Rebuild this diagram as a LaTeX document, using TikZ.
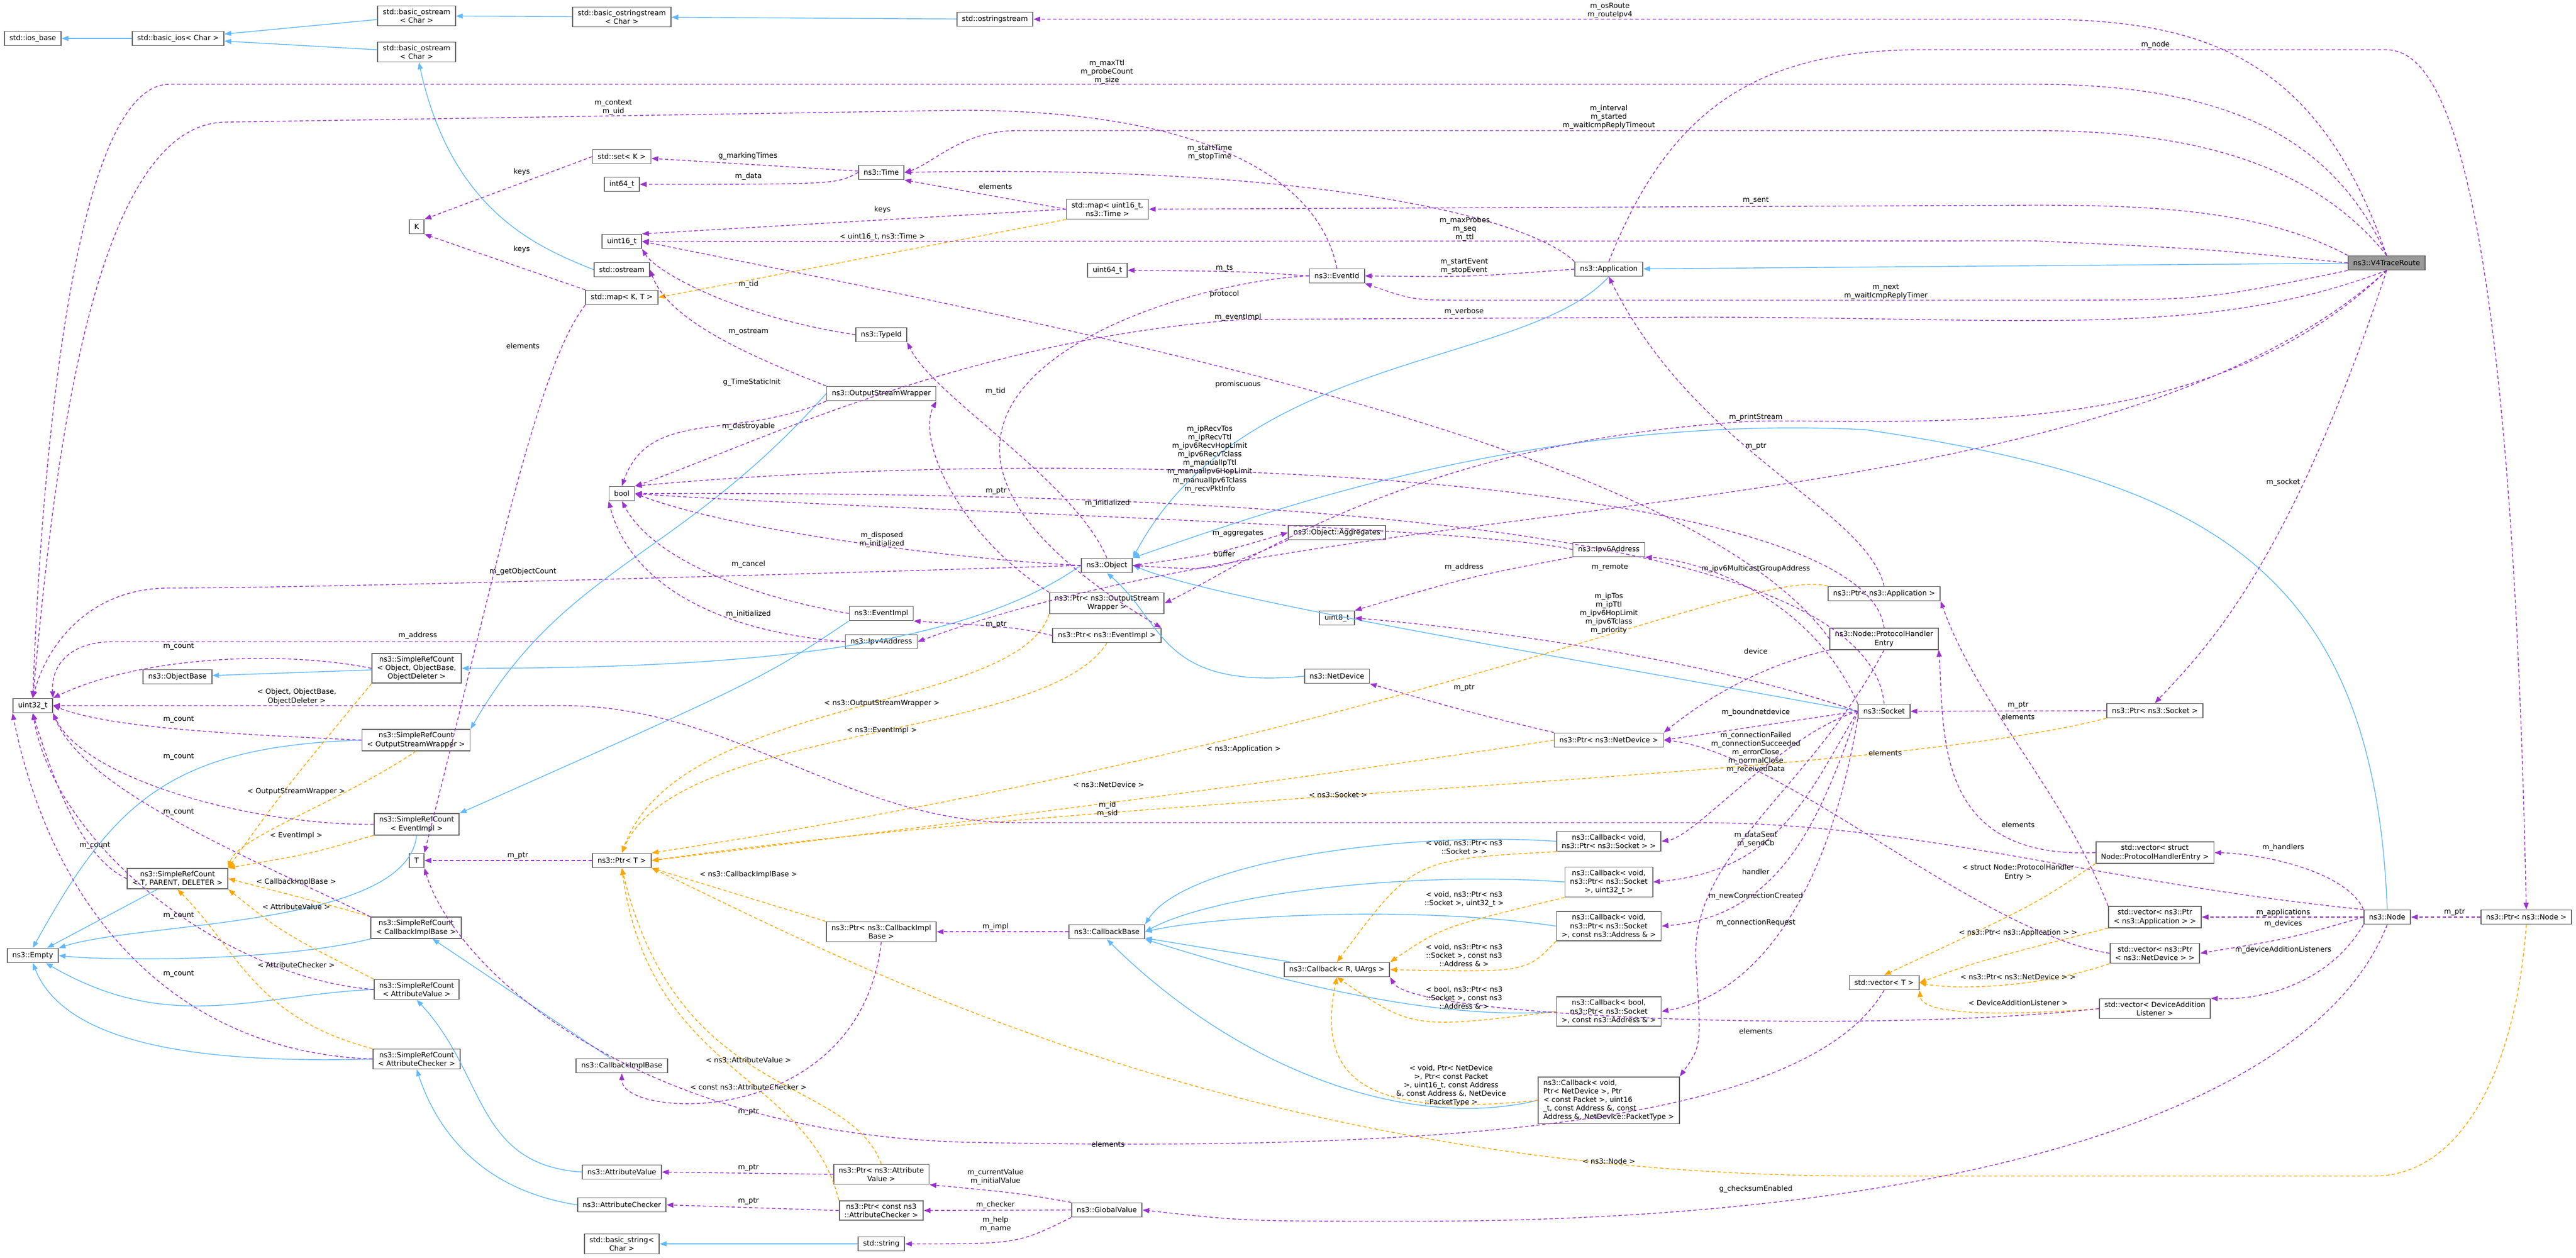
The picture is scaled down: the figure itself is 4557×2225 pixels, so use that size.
\documentclass[tikz,border=0pt]{standalone}
\usepackage{fontspec}
\setmainfont{DejaVu Sans}
\usetikzlibrary{arrows.meta}
\definecolor{cpur}{HTML}{9A32CD}
\definecolor{cblu}{HTML}{63B8FF}
\definecolor{cora}{HTML}{FFA500}
\definecolor{cbor}{HTML}{666666}
\begin{document}
\begin{tikzpicture}[x=0.01cm,y=-0.01cm,
  box/.style={draw=cbor,line width=0.5pt,fill=white,font=\fontsize{3.6}{4.3}\selectfont,align=center,inner xsep=0.09cm,inner ysep=0.05cm,minimum height=0.25cm},
  lbox/.style={box,align=left},
  root/.style={box,fill=black!40},
  lab/.style={font=\fontsize{3.6}{4.3}\selectfont,align=center,inner sep=0pt},
  use/.style={draw=cpur,line width=0.4pt,dash pattern=on 1.7pt off 1.2pt,-{Triangle[length=0.12cm,width=0.09cm]}},
  inh/.style={draw=cblu,line width=0.4pt,-{Triangle[length=0.12cm,width=0.09cm]}},
  tpl/.style={draw=cora,line width=0.4pt,dash pattern=on 1.7pt off 1.2pt,-{Triangle[length=0.12cm,width=0.09cm]}}]
\useasboundingbox (0,0) rectangle (4557,2225);
% nodes
\node[box] (ios) at (58,68) {std::ios\_base};
\node[box] (bios) at (315,68) {std::basic\_ios< Char >};
\node[box] (bos1) at (737,28) {std::basic\_ostream\\< Char >};
\node[box] (bos2) at (737,92) {std::basic\_ostream\\< Char >};
\node[box] (boss) at (1100,30) {std::basic\_ostringstream\\< Char >};
\node[box] (oss) at (1760,34) {std::ostringstream};
\node[box] (K) at (737,401) {K};
\node[box] (setK) at (1100,277) {std::set< K >};
\node[box] (i64) at (1100,326) {int64\_t};
\node[box] (u16) at (1100,427) {uint16\_t};
\node[box] (ostr) at (1100,477) {std::ostream};
\node[box] (mapKT) at (1100,526) {std::map< K, T >};
\node[box] (time) at (1559,305) {ns3::Time};
\node[box] (mapUT) at (1959,370) {std::map< uint16\_t,\\ ns3::Time >};
\node[box] (u64) at (1959,478) {uint64\_t};
\node[box] (tid) at (1559,592) {ns3::TypeId};
\node[box] (osw) at (1559,696) {ns3::OutputStreamWrapper};
\node[box] (bool) at (1100,873) {bool};
\node[box] (obj) at (1958,1000) {ns3::Object};
\node[box] (posw) at (1958,1067) {ns3::Ptr< ns3::OutputStream\\Wrapper >};
\node[box] (pev) at (1958,1124) {ns3::Ptr< ns3::EventImpl >};
\node[box] (evi) at (1559,1085) {ns3::EventImpl};
\node[box] (ip4) at (1559,1135) {ns3::Ipv4Address};
\node[box] (u32) at (58,1248) {uint32\_t};
\node[box] (obase) at (314,1197) {ns3::ObjectBase};
\node[box] (srcO) at (737,1182) {ns3::SimpleRefCount\\< Object, ObjectBase,\\ ObjectDeleter >};
\node[box] (srcOSW) at (736,1309) {ns3::SimpleRefCount\\< OutputStreamWrapper >};
\node[box] (srcEI) at (737,1458) {ns3::SimpleRefCount\\< EventImpl >};
\node[box] (srcT) at (314,1554) {ns3::SimpleRefCount\\< T, PARENT, DELETER >};
\node[box] (empty) at (58,1690) {ns3::Empty};
\node[box] (srcCIB) at (736,1641) {ns3::SimpleRefCount\\< CallbackImplBase >};
\node[box] (srcAV) at (737,1750) {ns3::SimpleRefCount\\< AttributeValue >};
\node[box] (srcAC) at (737,1873) {ns3::SimpleRefCount\\< AttributeChecker >};
\node[box] (T) at (737,1522) {T};
\node[box] (ptrT) at (1100,1522) {ns3::Ptr< T >};
\node[box] (cib) at (1100,1885) {ns3::CallbackImplBase};
\node[box] (av) at (1100,2073) {ns3::AttributeValue};
\node[box] (ac) at (1100,2131) {ns3::AttributeChecker};
\node[box] (bstr) at (1100,2200) {std::basic\_string<\\ Char >};
\node[box] (pcib) at (1559,1648) {ns3::Ptr< ns3::CallbackImpl\\Base >};
\node[box] (cbb) at (1958,1648) {ns3::CallbackBase};
\node[box] (pav) at (1559,2077) {ns3::Ptr< ns3::Attribute\\Value >};
\node[box] (pac) at (1559,2141) {ns3::Ptr< const ns3\\::AttributeChecker >};
\node[box] (gv) at (1958,2140) {ns3::GlobalValue};
\node[box] (str) at (1559,2200) {std::string};
\node[box] (evid) at (2365,488) {ns3::EventId};
\node[box] (app) at (2846,476) {ns3::Application};
\node[box] (agg) at (2365,942) {ns3::Object::Aggregates};
\node[box] (ip6) at (2846,972) {ns3::Ipv6Address};
\node[box] (u8) at (2365,1093) {uint8\_t};
\node[box] (papp) at (3333,1050) {ns3::Ptr< ns3::Application >};
\node[box] (nd) at (2365,1196) {ns3::NetDevice};
\node[box] (pnd) at (2846,1309) {ns3::Ptr< ns3::NetDevice >};
\node[box] (sock) at (3333,1258) {ns3::Socket};
\node[box] (phe) at (3333,1130) {ns3::Node::ProtocolHandler\\Entry};
\node[box] (cb1) at (2846,1488) {ns3::Callback< void,\\ ns3::Ptr< ns3::Socket > >};
\node[box] (cb2) at (2846,1560) {ns3::Callback< void,\\ ns3::Ptr< ns3::Socket\\ >, uint32\_t >};
\node[box] (cb3) at (2846,1638) {ns3::Callback< void,\\ ns3::Ptr< ns3::Socket\\ >, const ns3::Address \& >};
\node[box] (cbR) at (2365,1715) {ns3::Callback< R, UArgs >};
\node[box] (cb4) at (2846,1789) {ns3::Callback< bool,\\ ns3::Ptr< ns3::Socket\\ >, const ns3::Address \& >};
\node[lbox] (cb5) at (2846,1946) {ns3::Callback< void,\\ Ptr< NetDevice >, Ptr\\ < const Packet >, uint16\\ \_t, const Address \&, const\\ Address \&, NetDevice::PacketType >};
\node[box] (vecT) at (3333,1738) {std::vector< T >};
\node[root] (v4) at (4222,465) {ns3::V4TraceRoute};
\node[box] (psock) at (3812,1257) {ns3::Ptr< ns3::Socket >};
\node[box] (vphe) at (3812,1508) {std::vector< struct\\ Node::ProtocolHandlerEntry >};
\node[box] (vapp) at (3812,1622) {std::vector< ns3::Ptr\\< ns3::Application > >};
\node[box] (vnd) at (3812,1686) {std::vector< ns3::Ptr\\< ns3::NetDevice > >};
\node[box] (vdal) at (3812,1784) {std::vector< DeviceAddition\\Listener >};
\node[box] (node) at (4223,1622) {ns3::Node};
\node[box] (pnode) at (4469,1622) {ns3::Ptr< ns3::Node >};
% inheritance
\draw[inh] (bios) -- (ios);
\draw[inh] (bos1) -- (bios);
\draw[inh] (bos2) -- (bios);
\draw[inh] (boss) -- (bos1);
\draw[inh] (oss) -- (boss);
\draw[inh] (ostr.west) .. controls (960,440) and (800,380) .. (bos2);
\draw[inh] (srcO) -- (obase);
\draw[inh] (obj.west) .. controls (1700,1150) and (1300,1182) .. (srcO.east);
\draw[inh] (osw.west) .. controls (1200,990) and (1000,1000) .. (srcOSW.north east);
\draw[inh] (evi.south west) .. controls (1350,1200) .. (srcEI.north east);
\draw[inh] (srcT) -- (empty);
\draw[inh] (srcOSW.west) .. controls (300,1320) and (200,1420) .. (empty.north);
\draw[inh] (srcEI.south) .. controls (720,1640) and (250,1630) .. (empty.north east);
\draw[inh] (srcCIB.south west) .. controls (500,1700) and (200,1700) .. (empty.east);
\draw[inh] (srcAV.west) .. controls (450,1760) and (300,1830) .. (empty);
\draw[inh] (srcAC.west) .. controls (400,1880) and (120,1860) .. (empty.south);
\draw[inh] (cib) -- (srcCIB);
\draw[inh] (av.west) .. controls (840,2060) and (860,1900) .. (srcAV.south);
\draw[inh] (ac.west) .. controls (820,2100) and (760,1960) .. (srcAC.south);
\draw[inh] (str) -- (bstr);
\draw[inh] (app.south) .. controls (2700,650) and (2200,620) .. (obj.north east);
\draw[inh] (v4) -- (app);
\draw[inh] (sock.west) .. controls (2700,1150) and (2150,1060) .. (obj.east);
\draw[inh] (nd.west) .. controls (2050,1220) and (2060,1100) .. (obj.south);
\draw[inh] (node.north) .. controls (4200,1000) and (3900,850) .. (3300,760) .. controls (2700,730) and (2200,920) .. (obj.north east);
\draw[inh] (cbR) -- (cbb);
\draw[inh] (cb1.west) .. controls (2500,1470) and (2100,1520) .. (cbb.north east);
\draw[inh] (cb2.west) .. controls (2500,1540) and (2150,1580) .. (cbb.east);
\draw[inh] (cb3.west) .. controls (2500,1600) and (2150,1620) .. (cbb.east);
\draw[inh] (cb4.west) .. controls (2500,1810) and (2150,1700) .. (cbb.south east);
\draw[inh] (cb5.west) .. controls (2500,2000) and (2200,1900) .. (cbb.south);
% template
\draw[tpl] (srcO.south west) .. controls (500,1400) .. (srcT.north east);
\draw[tpl] (srcOSW.south) .. controls (600,1420) and (420,1480) .. (srcT.north east);
\draw[tpl] (srcEI.south west) .. controls (550,1510) .. (srcT.north east);
\draw[tpl] (srcCIB.north west) .. controls (580,1600) .. (srcT.east);
\draw[tpl] (srcAV.north west) .. controls (500,1650) .. (srcT.south east);
\draw[tpl] (srcAC.north west) .. controls (450,1800) and (420,1680) .. (srcT.south);
\draw[tpl] (mapUT.south west) -- (mapKT.east);
\draw[tpl] (posw.south west) .. controls (1800,1260) and (1200,1230) .. (ptrT.north);
\draw[tpl] (pev.south) .. controls (1850,1310) and (1200,1280) .. (ptrT.north);
\draw[tpl] (papp.north west) .. controls (3100,1000) and (2500,1300) .. (ptrT.north east);
\draw[tpl] (pnd.west) .. controls (2300,1380) and (1500,1480) .. (ptrT.east);
\draw[tpl] (psock.south west) .. controls (3300,1380) and (2000,1400) .. (ptrT.east);
\draw[tpl] (pcib.north west) -- (ptrT.south east);
\draw[tpl] (pav.north) .. controls (1500,1900) and (1200,1950) .. (ptrT.south);
\draw[tpl] (pac.north west) .. controls (1430,1900) and (1150,1900) .. (ptrT.south);
\draw[tpl] (pnode.south) .. controls (4450,1900) and (4350,2080) .. (4200,2080) -- (3300,2080) .. controls (2200,2080) and (1500,1700) .. (ptrT.south east);
\draw[tpl] (cb1.south west) .. controls (2500,1520) .. (cbR.north);
\draw[tpl] (cb2.south west) .. controls (2550,1640) .. (cbR.north east);
\draw[tpl] (cb3.south west) .. controls (2700,1720) .. (cbR.east);
\draw[tpl] (cb4.west) .. controls (2500,1820) .. (cbR.south);
\draw[tpl] (cb5.west) .. controls (2400,1980) and (2330,1900) .. (cbR.south);
\draw[tpl] (vphe.south west) .. controls (3600,1600) .. (vecT.north);
\draw[tpl] (vapp.south west) .. controls (3500,1700) .. (vecT.east);
\draw[tpl] (vnd.south west) .. controls (3600,1750) and (3450,1750) .. (vecT.east);
\draw[tpl] (vdal.west) .. controls (3500,1800) and (3400,1790) .. (vecT.south east);
% usage
\draw[use] (setK.west) -- (K.north east);
\draw[use] (mapKT.north west) -- (K.south east);
\draw[use] (mapKT.south west) .. controls (950,650) and (880,1000) .. (T.north east);
\draw[use] (time) -- (setK);
\draw[use] (time.west) .. controls (1480,326) .. (i64);
\draw[use] (mapUT.west) -- (time.south east);
\draw[use] (mapUT.west) -- (u16.north east);
\draw[use] (tid.west) .. controls (1300,560) and (1160,480) .. (u16.south east);
\draw[use] (osw.north west) .. controls (1300,620) and (1180,560) .. (ostr.east);
\draw[use] (osw.south west) .. controls (1300,780) and (1150,720) .. (bool.north);
\draw[use] (obj.west) .. controls (1700,990) and (1300,940) .. (bool.east);
\draw[use] (posw.north west) .. controls (1700,950) and (1620,780) .. (osw.south east);
\draw[use] (obj.north) .. controls (1900,850) and (1650,700) .. (tid.south east);
\draw[use] (evi.west) .. controls (1300,1050) and (1150,980) .. (bool.south);
\draw[use] (ip4.west) .. controls (1300,1120) and (1120,1050) .. (bool.south west);
\draw[use] (ip4.west) -- (200,1135) .. controls (120,1135) and (90,1180) .. (u32.north east);
\draw[use] (pev.west) .. controls (1800,1110) .. (evi.south east);
\draw[use] (obj.east) .. controls (2150,980) .. (agg.west);
\draw[use] (agg.south west) .. controls (2150,1010) .. (obj.east);
\draw[use] (obj.west) .. controls (1600,1010) and (600,1040) .. (300,1040) .. controls (150,1040) and (80,1150) .. (u32.north);
\draw[use] (srcO.west) .. controls (500,1150) and (250,1160) .. (u32.north east);
\draw[use] (srcOSW.west) .. controls (450,1300) and (200,1290) .. (u32.east);
\draw[use] (srcEI.west) .. controls (450,1460) and (150,1380) .. (u32.south east);
\draw[use] (srcT.west) .. controls (150,1520) and (100,1400) .. (u32.south);
\draw[use] (srcCIB.north west) .. controls (450,1520) and (150,1400) .. (u32.south east);
\draw[use] (srcAV.west) .. controls (400,1730) and (100,1500) .. (u32.south);
\draw[use] (srcAC.west) .. controls (300,1860) and (90,1600) .. (u32.south west);
\draw[use] (evid.west) .. controls (2050,500) and (1400,720) .. (pev.north east);
\draw[use] (evid.north) .. controls (2330,300) and (2100,195) .. (1700,195) -- (400,216) .. controls (150,216) and (90,900) .. (u32.north);
\draw[use] (evid.west) .. controls (2200,480) .. (u64.east);
\draw[use] (app.west) .. controls (2600,490) .. (evid.east);
\draw[use] (app.north west) .. controls (2700,380) and (2300,290) .. (time.east);
\draw[use] (app.north) .. controls (2950,200) and (3100,88) .. (3400,88) -- (4220,88) .. controls (4300,88) and (4440,200) .. (pnode.north);
\draw[use] (v4.north) .. controls (4100,100) and (3900,34) .. (3600,34) -- (oss.east);
\draw[use] (v4.north) .. controls (4130,250) and (3950,149) .. (3600,149) -- (300,149) .. controls (120,149) and (70,900) .. (u32.north);
\draw[use] (v4.north) .. controls (4100,300) and (3900,231) .. (3600,231) -- (1800,231) .. controls (1700,231) and (1650,290) .. (time.east);
\draw[use] (v4.north west) .. controls (4000,370) and (3800,363) .. (3600,363) -- (mapUT.east);
\draw[use] (v4.west) .. controls (3900,440) .. (3600,426) -- (u16.east);
\draw[use] (v4.south west) .. controls (3900,531) .. (3600,531) -- (2600,531) .. controls (2500,531) .. (evid.south east);
\draw[use] (v4.south) .. controls (3900,600) and (3600,561) .. (3000,561) -- (2200,565) .. controls (1700,600) and (1300,800) .. (bool.north east);
\draw[use] (v4.south) .. controls (3900,790) and (3400,740) .. (3100,745) .. controls (2500,780) and (2200,1000) .. (posw.east);
\draw[use] (v4.south) .. controls (4050,1000) and (3900,1150) .. (psock.north);
\draw[use] (v4.south) .. controls (3700,950) and (2400,850) .. (ip4.east);
\draw[use] (papp.north) .. controls (3300,900) and (3000,800) .. (app.south);
\draw[use] (ip6.south west) .. controls (2600,1020) .. (u8.north east);
\draw[use] (ip6.west) .. controls (2600,930) and (1500,900) .. (bool.east);
\draw[use] (sock.north west) .. controls (3200,1050) and (3000,990) .. (ip6.south east);
\draw[use] (sock.west) .. controls (3000,1160) and (2600,1110) .. (u8.east);
\draw[use] (sock.north) .. controls (3300,900) and (2000,870) .. (bool.east);
\draw[use] (phe.north) .. controls (3300,850) and (2000,780) .. (bool.north east);
\draw[use] (phe.west) .. controls (3000,800) and (2000,600) .. (u16.east);
\draw[use] (phe.south west) .. controls (3100,1180) and (3000,1250) .. (pnd.north east);
\draw[use] (phe.south) .. controls (3200,1400) and (2990,1510) .. (3000,1700) .. controls (3010,1850) .. (cb5.north east);
\draw[use] (sock.west) -- (pnd.east);
\draw[use] (sock.west) .. controls (3150,1300) and (3000,1480) .. (cb1.east);
\draw[use] (sock.west) .. controls (3200,1400) and (3150,1540) .. (cb2.east);
\draw[use] (sock.west) .. controls (3220,1450) and (3150,1620) .. (cb3.east);
\draw[use] (sock.south west) .. controls (3230,1600) and (3100,1760) .. (cb4.east);
\draw[use] (pnd.north west) .. controls (2600,1260) .. (nd.south east);
\draw[use] (psock.west) -- (sock.east);
\draw[use] (pnode.west) -- (node.east);
\draw[use] (node.north west) .. controls (4150,1540) and (4000,1510) .. (vphe.east);
\draw[use] (node.west) -- (vapp.east);
\draw[use] (node.west) .. controls (4050,1660) .. (vnd.east);
\draw[use] (node.south west) .. controls (4120,1740) and (4000,1770) .. (vdal.north east);
\draw[use] (node.north west) .. controls (3700,1560) and (3400,1455) .. (3000,1455) -- (1800,1455) .. controls (1500,1455) and (1300,1250) .. (1000,1248) -- (u32.east);
\draw[use] (node.south) .. controls (4100,1950) and (3500,2160) .. (2500,2160) .. controls (2200,2160) .. (gv.east);
\draw[use] (vphe.west) .. controls (3420,1520) and (3440,1300) .. (phe.south east);
\draw[use] (vapp.north west) .. controls (3650,1400) and (3500,1250) .. (papp.south east);
\draw[use] (vnd.west) .. controls (3500,1650) and (3150,1330) .. (pnd.east);
\draw[use] (vdal.west) .. controls (3300,1830) and (2500,1800) .. (cbR.south east);
\draw[use] (vecT.south) .. controls (3200,1980) and (2600,2040) .. (1700,2020) .. controls (1100,2000) and (800,1700) .. (T.south east);
\draw[use] (cbb.west) -- (pcib.east);
\draw[use] (pcib.south) .. controls (1520,2000) and (1100,1980) .. (cib.south);
\draw[use] (ptrT.west) -- (T.east);
\draw[use] (pav.west) -- (av.east);
\draw[use] (pac.west) -- (ac.east);
\draw[use] (gv.north west) .. controls (1800,2110) .. (pav.south east);
\draw[use] (gv.west) -- (pac.east);
\draw[use] (gv.south west) .. controls (1800,2200) .. (str.east);
% labels
\node[lab] (l1) at (3106,355) {m\_sent};
\node[lab] (l2) at (2848,19) {m\_osRoute\\m\_routeIpv4};
\node[lab] (l3) at (3813,79) {m\_node};
\node[lab] (l4) at (1958,127) {m\_maxTtl\\m\_probeCount\\m\_size};
\node[lab] (l5) at (1085,190) {m\_context\\m\_uid};
\node[lab] (l6) at (2846,207) {m\_interval\\m\_started\\m\_waitIcmpReplyTimeout};
\node[lab] (l7) at (2140,270) {m\_startTime\\m\_stopTime};
\node[lab] (l8) at (1323,276) {g\_markingTimes};
\node[lab] (l9) at (1324,312) {m\_data};
\node[lab] (l10) at (1761,330) {elements};
\node[lab] (l11) at (1561,371) {keys};
\node[lab] (l12) at (1561,419) {< uint16\_t, ns3::Time >};
\node[lab] (l13) at (923,304) {keys};
\node[lab] (l14) at (923,441) {keys};
\node[lab] (l15) at (2591,405) {m\_maxProbes\\m\_seq\\m\_ttl};
\node[lab] (l16) at (2590,471) {m\_startEvent\\m\_stopEvent};
\node[lab] (l17) at (2166,475) {m\_ts};
\node[lab] (l18) at (3336,516) {m\_next\\m\_waitIcmpReplyTimer};
\node[lab] (l19) at (1324,503) {m\_tid};
\node[lab] (l20) at (2166,520) {protocol};
\node[lab] (l21) at (2590,551) {m\_verbose};
\node[lab] (l22) at (2190,561) {m\_eventImpl};
\node[lab] (l23) at (1324,587) {m\_ostream};
\node[lab] (l24) at (925,612) {elements};
\node[lab] (l25) at (1761,692) {m\_tid};
\node[lab] (l26) at (2190,680) {promiscuous};
\node[lab] (l27) at (1330,676) {g\_TimeStaticInit};
\node[lab] (l28) at (3106,738) {m\_printStream};
\node[lab] (l29) at (1324,754) {m\_destroyable};
\node[lab] (l30) at (3106,790) {m\_ptr};
\node[lab] (l31) at (2140,812) {m\_ipRecvTos\\m\_ipRecvTtl\\m\_ipv6RecvHopLimit\\m\_ipv6RecvTclass\\m\_manualIpTtl\\m\_manualIpv6HopLimit\\m\_manualIpv6Tclass\\m\_recvPktInfo};
\node[lab] (l32) at (1762,869) {m\_ptr};
\node[lab] (l33) at (1959,890) {m\_initialized};
\node[lab] (l34) at (4039,853) {m\_socket};
\node[lab] (l35) at (2190,944) {m\_aggregates};
\node[lab] (l36) at (1560,955) {m\_disposed\\m\_initialized};
\node[lab] (l37) at (2166,980) {buffer};
\node[lab] (l38) at (1324,998) {m\_cancel};
\node[lab] (l39) at (2590,1003) {m\_address};
\node[lab] (l40) at (2848,1004) {m\_remote};
\node[lab] (l41) at (3106,1006) {m\_ipv6MulticastGroupAddress};
\node[lab] (l42) at (925,1011) {m\_getObjectCount};
\node[lab] (l43) at (2846,1085) {m\_ipTos\\m\_ipTtl\\m\_ipv6HopLimit\\m\_ipv6Tclass\\m\_priority};
\node[lab] (l44) at (1324,1086) {m\_initialized};
\node[lab] (l45) at (1762,1105) {m\_ptr};
\node[lab] (l46) at (739,1124) {m\_address};
\node[lab] (l47) at (316,1144) {m\_count};
\node[lab] (l48) at (3106,1152) {device};
\node[lab] (l49) at (2590,1217) {m\_ptr};
\node[lab] (l50) at (525,1232) {< Object, ObjectBase,\\ObjectDeleter >};
\node[lab] (l51) at (3570,1248) {m\_ptr};
\node[lab] (l52) at (3106,1260) {m\_boundnetdevice};
\node[lab] (l53) at (3570,1268) {elements};
\node[lab] (l54) at (316,1273) {m\_count};
\node[lab] (l55) at (3106,1331) {m\_connectionFailed\\m\_connectionSucceeded\\m\_errorClose\\m\_normalClose\\m\_receivedData};
\node[lab] (l56) at (3335,1332) {elements};
\node[lab] (l57) at (316,1339) {m\_count};
\node[lab] (l58) at (2200,1325) {< ns3::Application >};
\node[lab] (l59) at (1961,1388) {< ns3::NetDevice >};
\node[lab] (l60) at (524,1400) {< OutputStreamWrapper >};
\node[lab] (l61) at (2367,1406) {< ns3::Socket >};
\node[lab] (l62) at (1959,1432) {m\_id\\m\_sid};
\node[lab] (l63) at (316,1437) {m\_count};
\node[lab] (l64) at (1560,1244) {< ns3::OutputStreamWrapper >};
\node[lab] (l65) at (1560,1292) {< ns3::EventImpl >};
\node[lab] (l66) at (3570,1459) {elements};
\node[lab] (l67) at (524,1478) {< EventImpl >};
\node[lab] (l68) at (3106,1485) {m\_dataSent\\m\_sendCb};
\node[lab] (l69) at (2590,1498) {< void, ns3::Ptr< ns3\\::Socket > >};
\node[lab] (l70) at (168,1496) {m\_count};
\node[lab] (l71) at (4039,1499) {m\_handlers};
\node[lab] (l72) at (916,1514) {m\_ptr};
\node[lab] (l73) at (3106,1542) {handler};
\node[lab] (l74) at (3570,1543) {< struct Node::ProtocolHandler\\Entry >};
\node[lab] (l75) at (1324,1547) {< ns3::CallbackImplBase >};
\node[lab] (l76) at (524,1560) {< CallbackImplBase >};
\node[lab] (l77) at (2590,1591) {< void, ns3::Ptr< ns3\\::Socket >, uint32\_t >};
\node[lab] (l78) at (3106,1585) {m\_newConnectionCreated};
\node[lab] (l79) at (524,1604) {< AttributeValue >};
\node[lab] (l80) at (4039,1614) {m\_applications};
\node[lab] (l81) at (4342,1614) {m\_ptr};
\node[lab] (l82) at (316,1620) {m\_count};
\node[lab] (l83) at (3106,1632) {m\_connectionRequest};
\node[lab] (l84) at (4039,1634) {m\_devices};
\node[lab] (l85) at (1761,1639) {m\_impl};
\node[lab] (l86) at (3570,1650) {< ns3::Ptr< ns3::Application > >};
\node[lab] (l87) at (4039,1680) {m\_deviceAdditionListeners};
\node[lab] (l88) at (2590,1690) {< void, ns3::Ptr< ns3\\::Socket >, const ns3\\::Address \& >};
\node[lab] (l89) at (524,1707) {< AttributeChecker >};
\node[lab] (l90) at (316,1723) {m\_count};
\node[lab] (l91) at (3570,1728) {< ns3::Ptr< ns3::NetDevice > >};
\node[lab] (l92) at (2590,1765) {< bool, ns3::Ptr< ns3\\::Socket >, const ns3\\::Address \& >};
\node[lab] (l93) at (3570,1774) {< DeviceAdditionListener >};
\node[lab] (l94) at (3106,1824) {elements};
\node[lab] (l95) at (1324,1875) {< ns3::AttributeValue >};
\node[lab] (l96) at (2567,1920) {< void, Ptr< NetDevice\\>, Ptr< const Packet\\>, uint16\_t, const Address\\\&, const Address \&, NetDevice\\::PacketType >};
\node[lab] (l97) at (1324,1923) {< const ns3::AttributeChecker >};
\node[lab] (l98) at (1324,1967) {m\_ptr};
\node[lab] (l99) at (1960,2024) {elements};
\node[lab] (l100) at (2846,2054) {< ns3::Node >};
\node[lab] (l101) at (1324,2066) {m\_ptr};
\node[lab] (l102) at (1761,2082) {m\_currentValue\\m\_initialValue};
\node[lab] (l103) at (3106,2103) {g\_checksumEnabled};
\node[lab] (l104) at (1324,2125) {m\_ptr};
\node[lab] (l105) at (1761,2131) {m\_checker};
\node[lab] (l106) at (1761,2166) {m\_help\\m\_name};
\end{tikzpicture}
\end{document}
